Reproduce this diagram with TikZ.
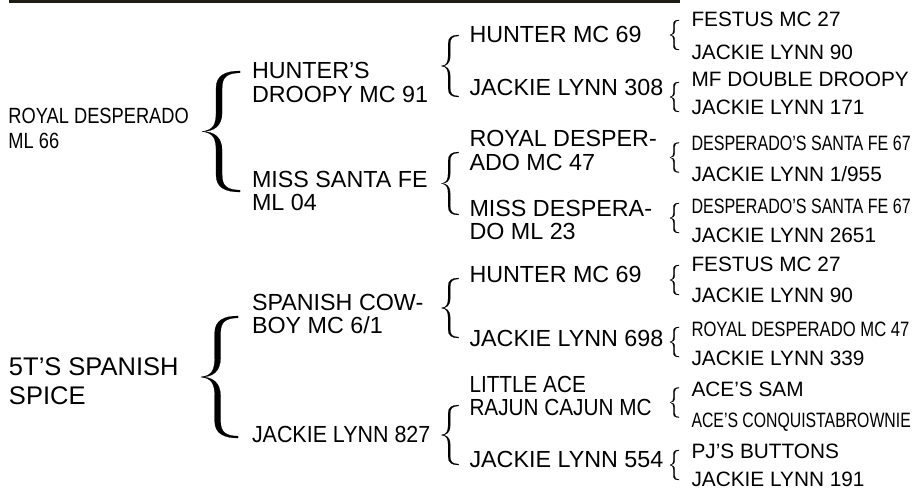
\documentclass[tikz,border=0pt]{standalone}
\usepackage{fontspec}
\setmainfont{Liberation Sans}
\usepackage{graphicx}
\definecolor{barc}{RGB}{30,30,22}
\newcommand\tl[1]{\begin{tabular}[t]{@{}l@{}}#1\end{tabular}}
\newcommand\nar[2]{\scalebox{#1}[1]{#2}}
\newcommand\bracehalf[1]{\filldraw[line width=0.2pt,line join=round]
  (0,0) .. controls (0.30,0.02) and ({0.45-#1},0.12) .. ({0.45-#1},0.32)
  -- ({0.45-#1},0.72) .. controls ({0.45-#1},0.93) and (0.62,1) .. (1,1)
  -- (1,0.97) .. controls (0.66,0.965) and ({0.45+#1},0.9) .. ({0.45+#1},0.72)
  -- ({0.45+#1},0.32) .. controls ({0.45+#1},0.08) and (0.3,0) .. (0,0) -- cycle;}
\newcommand\curly[5]{\begin{scope}[shift={(#1,#2)},xscale=#3,yscale=#4]
  \bracehalf{#5}\begin{scope}[yscale=-1]\bracehalf{#5}\end{scope}\end{scope}}
\tikzset{
  lbl/.style={anchor=base west,inner sep=0pt,outer sep=0pt},
  lvz/.style={lbl,font=\fontsize{22}{25}\selectfont},
  lvb/.style={lbl,font=\fontsize{25.5}{29}\selectfont},
  lvm/.style={lbl,font=\fontsize{23.3}{23.5}\selectfont},
  lvr/.style={lbl,font=\fontsize{20.8}{22}\selectfont}
}
\begin{document}
\begin{tikzpicture}[x=1pt,y=-1pt]
\fill[white] (0,0) rectangle (917,489);
\useasboundingbox (0,0) rectangle (917,489);
\fill[barc] (9,0) rectangle (680,3.5);
% generation 0
\node[lvz] (a) at (8.5,124) {\nar{0.83}{\tl{ROYAL DESPERADO\\ML 66}}};
\node[lvb] (b) at (9,375) {\tl{5T’S SPANISH\\SPICE}};
% generation 1
\node[lvm] (c) at (252,79) {\tl{HUNTER’S\\DROOPY MC 91}};
\node[lvm] (d) at (252,187) {\tl{MISS SANTA FE\\ML 04}};
\node[lvm] (e) at (252,310) {\tl{SPANISH COW-\\BOY MC 6/1}};
\node[lvm] (f) at (252,442) {\nar{0.92}{JACKIE LYNN 827}};
% generation 2
\node[lvm] (g) at (469.5,42.5) {HUNTER MC 69};
\node[lvm] (h) at (469.5,96) {JACKIE LYNN 308};
\node[lvm] (i) at (469.5,147) {\tl{ROYAL DESPER-\\ADO MC 47}};
\node[lvm] (j) at (469.5,216) {\tl{MISS DESPERA-\\DO ML 23}};
\node[lvm] (k) at (469.5,282) {HUNTER MC 69};
\node[lvm] (l) at (469.5,346) {JACKIE LYNN 698};
\node[lvm] (m) at (469.5,392) {\nar{0.89}{\tl{LITTLE ACE\\RAJUN CAJUN MC}}};
\node[lvm] (n) at (469.5,467) {JACKIE LYNN 554};
% generation 3
\node[lvr] (r1) at (691.5,27) {FESTUS MC 27};
\node[lvr] (r2) at (691.5,60) {JACKIE LYNN 90};
\node[lvr] (r3) at (691.5,87) {MF DOUBLE DROOPY};
\node[lvr] (r4) at (691.5,114.5) {JACKIE LYNN 171};
\node[lvr] (r5) at (691.5,150) {\nar{0.772}{DESPERADO’S SANTA FE 67}};
\node[lvr] (r6) at (691.5,181.5) {JACKIE LYNN 1/955};
\node[lvr] (r7) at (691.5,213) {\nar{0.772}{DESPERADO’S SANTA FE 67}};
\node[lvr] (r8) at (691.5,242) {JACKIE LYNN 2651};
\node[lvr] (r9) at (691.5,271) {FESTUS MC 27};
\node[lvr] (r10) at (691.5,302.5) {JACKIE LYNN 90};
\node[lvr] (r11) at (691.5,336) {\nar{0.8}{ROYAL DESPERADO MC 47}};
\node[lvr] (r12) at (691.5,365.5) {JACKIE LYNN 339};
\node[lvr] (r13) at (691.5,396) {ACE’S SAM};
\node[lvr] (r14) at (691.5,427) {\nar{0.76}{ACE’S CONQUISTABROWNIE}};
\node[lvr] (r15) at (691.5,458) {PJ’S BUTTONS};
\node[lvr] (r16) at (691.5,486) {JACKIE LYNN 191};
% braces
\curly{202}{131.5}{38}{60.5}{0.08}
\curly{201}{377}{37}{61}{0.08}
\curly{441.5}{66}{17}{31}{0.06}
\curly{441.5}{183.5}{17}{31.5}{0.06}
\curly{441.5}{308}{17}{30}{0.06}
\curly{441.5}{435}{17}{30}{0.06}
\curly{670}{35}{9}{15}{0.075}
\curly{670}{97}{9}{15}{0.075}
\curly{670}{157.5}{9}{15}{0.075}
\curly{670}{218}{9}{15}{0.075}
\curly{670}{280}{9}{15}{0.075}
\curly{670}{342}{9}{15}{0.075}
\curly{670}{402.5}{9}{15}{0.075}
\curly{670}{465}{9}{15}{0.075}
\end{tikzpicture}
\end{document}
